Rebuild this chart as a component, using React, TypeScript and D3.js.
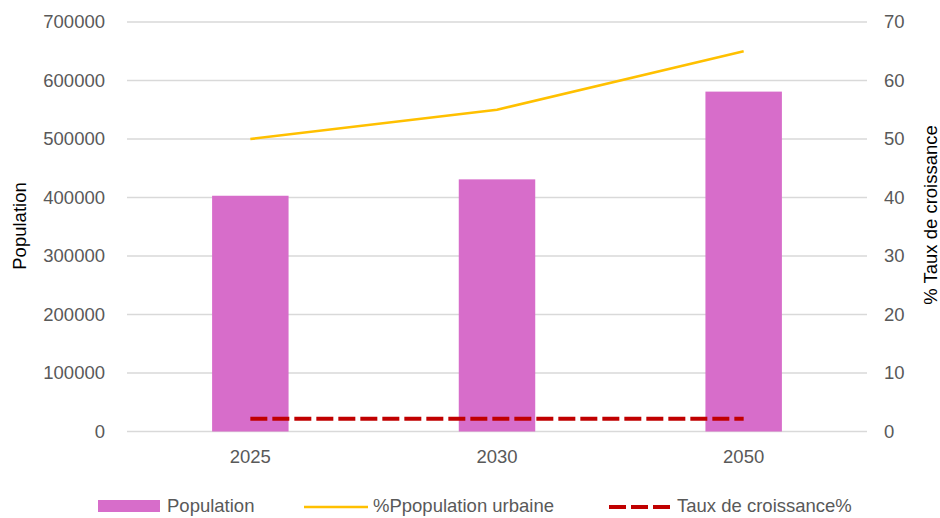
import React from "react";
import * as d3 from "d3";

const years = ["2025", "2030", "2050"];
const population = [403000, 431000, 581000];
const urbanPct = [50, 55, 65];
const growthRate = [2.2, 2.2, 2.2];
const leftTicks = [0, 100000, 200000, 300000, 400000, 500000, 600000, 700000];
const rightTicks = [0, 10, 20, 30, 40, 50, 60, 70];

const W = 940;
const H = 518;
const plot = { left: 127, right: 867, top: 22, bottom: 431.5 };
const FONT = "'Liberation Sans', Arial, sans-serif";
const TICK_COLOR = "#595959";
const BAR_COLOR = "#D76DCA";
const URBAN_COLOR = "#FFC000";
const GROWTH_COLOR = "#C00000";

export default function App() {
  const x = d3.scaleBand<string>().domain(years).range([plot.left, plot.right]).padding(0);
  const yL = d3.scaleLinear().domain([0, 700000]).range([plot.bottom, plot.top]);
  const yR = d3.scaleLinear().domain([0, 70]).range([plot.bottom, plot.top]);
  const barW = x.bandwidth() * 0.31;
  const cx = (c: string) => (x(c) ?? 0) + x.bandwidth() / 2;

  const urbanLine = d3
    .line<number>()
    .x((_, i) => cx(years[i]))
    .y((d) => yR(d));
  const growthLine = d3
    .line<number>()
    .x((_, i) => cx(years[i]))
    .y((d) => yR(d));

  return (
    <svg
      width={W}
      height={H}
      style={{ position: "absolute", left: 0, top: 0, background: "#fff" }}
      fontFamily={FONT}
    >
      {/* gridlines */}
      {leftTicks.map((t) => (
        <line
          key={"g" + t}
          x1={plot.left}
          x2={plot.right}
          y1={yL(t)}
          y2={yL(t)}
          stroke="#D9D9D9"
          strokeWidth={1.3}
        />
      ))}

      {/* left ticks */}
      {leftTicks.map((t) => (
        <text
          key={"l" + t}
          x={105}
          y={yL(t)}
          dy="0.35em"
          textAnchor="end"
          fontSize={18.5}
          fill={TICK_COLOR}
        >
          {t}
        </text>
      ))}

      {/* right ticks */}
      {rightTicks.map((t) => (
        <text
          key={"r" + t}
          x={884}
          y={yR(t)}
          dy="0.35em"
          textAnchor="start"
          fontSize={18.5}
          fill={TICK_COLOR}
        >
          {t}
        </text>
      ))}

      {/* category labels */}
      {years.map((c) => (
        <text
          key={"c" + c}
          x={cx(c)}
          y={457}
          dy="0.35em"
          textAnchor="middle"
          fontSize={18.5}
          fill={TICK_COLOR}
        >
          {c}
        </text>
      ))}

      {/* bars */}
      {years.map((c, i) => (
        <rect
          key={"b" + c}
          x={cx(c) - barW / 2}
          y={yL(population[i])}
          width={barW}
          height={yL(0) - yL(population[i])}
          fill={BAR_COLOR}
        />
      ))}

      {/* urban population line */}
      <path d={urbanLine(urbanPct) ?? ""} fill="none" stroke={URBAN_COLOR} strokeWidth={2.6} />

      {/* growth rate dashed line */}
      <path
        d={growthLine(growthRate) ?? ""}
        fill="none"
        stroke={GROWTH_COLOR}
        strokeWidth={4}
        strokeDasharray="17 5"
      />

      {/* axis titles */}
      <text
        transform={`translate(26, 226) rotate(-90)`}
        textAnchor="middle"
        fontSize={18.5}
        fill="#000"
      >
        Population
      </text>
      <text
        transform={`translate(937, 215) rotate(-90)`}
        textAnchor="middle"
        fontSize={18.5}
        fill="#000"
      >
        % Taux de croissance
      </text>

      {/* legend */}
      <g>
        <rect x={98} y={500} width={62} height={12} fill={BAR_COLOR} />
        <text x={167} y={506} dy="0.35em" fontSize={18.5} fill={TICK_COLOR}>
          Population
        </text>
        <line x1={304} x2={368} y1={507} y2={507} stroke={URBAN_COLOR} strokeWidth={2.6} />
        <text x={373} y={506} dy="0.35em" fontSize={18.5} fill={TICK_COLOR}>
          %Ppopulation urbaine
        </text>
        <line
          x1={609}
          x2={670}
          y1={507}
          y2={507}
          stroke={GROWTH_COLOR}
          strokeWidth={4}
          strokeDasharray="17 5"
        />
        <text x={677} y={506} dy="0.35em" fontSize={18.5} fill={TICK_COLOR}>
          Taux de croissance%
        </text>
      </g>
    </svg>
  );
}
